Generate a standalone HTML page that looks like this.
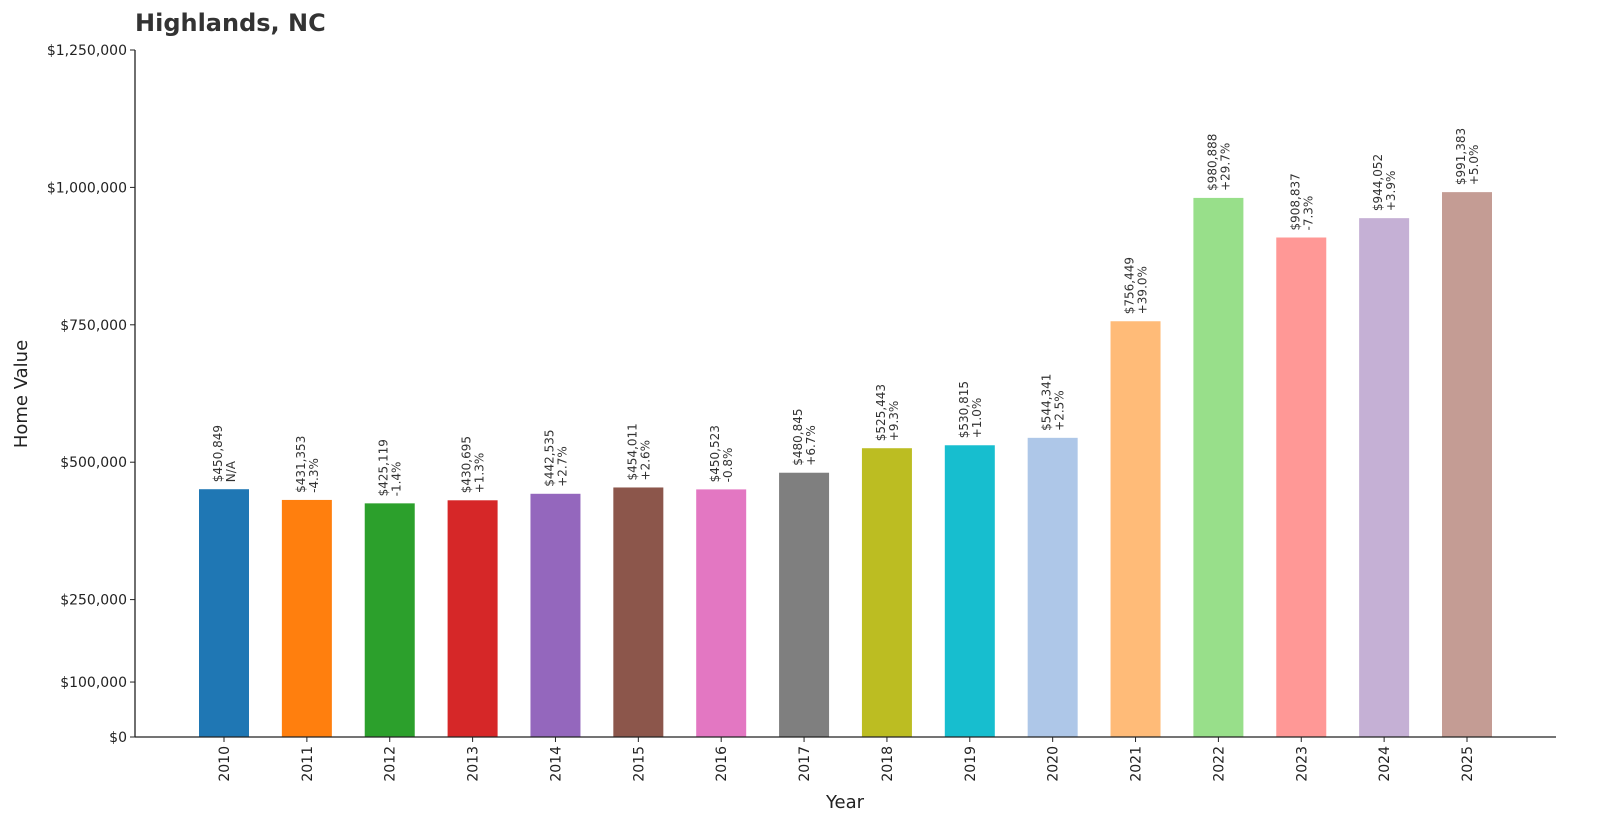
<!DOCTYPE html>
<html><head><meta charset="utf-8"><style>
body{margin:0;background:#fff;}
svg{display:block;font-family:"DejaVu Sans","Liberation Sans",sans-serif;}
</style></head><body>
<svg id="chart" width="1600" height="840">
<text x="135" y="31" font-size="24" font-weight="bold" fill="#333">Highlands, NC</text>
<text transform="translate(27,394) rotate(-90)" text-anchor="middle" font-size="18" fill="#222">Home Value</text>
<text x="845" y="808" text-anchor="middle" font-size="18" fill="#222">Year</text>
<g id="bars"></g><g id="axes"></g>
</svg>
<script>
const years=["2010","2011","2012","2013","2014","2015","2016","2017","2018","2019","2020","2021","2022","2023","2024","2025"];
const values=[450849,431353,425119,430695,442535,454011,450523,480845,525443,530815,544341,756449,980888,908837,944052,991383];
const changes=["N/A","-4.3%","-1.4%","+1.3%","+2.7%","+2.6%","-0.8%","+6.7%","+9.3%","+1.0%","+2.5%","+39.0%","+29.7%","-7.3%","+3.9%","+5.0%"];
const yTicks=[0,100000,250000,500000,750000,1000000,1250000];
const colors=["#1f77b4","#ff7f0e","#2ca02c","#d62728","#9467bd","#8c564b","#e377c2","#7f7f7f","#bcbd22","#17becf","#aec7e8","#ffbb78","#98df8a","#ff9896","#c5b0d5","#c49c94"];
const NS="http://www.w3.org/2000/svg";
const y0=737,y1=50,yMax=1250000;
const yScale=v=>y0-(v/yMax)*(y0-y1);
const xScale=i=>224+i*(1467-224)/(years.length-1);
const bw=50;
const bars=document.getElementById('bars'),axes=document.getElementById('axes');
function mk(tag,attrs,parent){const e=document.createElementNS(NS,tag);for(const k in attrs)e.setAttribute(k,attrs[k]);parent.appendChild(e);return e;}
values.forEach((v,i)=>{
 const cx=xScale(i),top=yScale(v);
 const r=mk('rect',{x:cx-bw/2,y:top,width:bw,height:y0-top,fill:colors[i%colors.length]},bars);
 
 
 const t=mk('text',{transform:`translate(${cx},${top-7}) rotate(-90)`,'font-size':'12',fill:'#333'},bars);
 
 
 const s1=mk('tspan',{x:0,y:-2},t);s1.textContent='$'+v.toLocaleString('en-US');
 const s2=mk('tspan',{x:0,y:11},t);s2.textContent=changes[i];
 mk('line',{x1:cx,x2:cx,y1:y0,y2:y0+5,stroke:'#222'},axes);
 const tl=mk('text',{transform:`translate(${cx+5},${y0+9}) rotate(-90)`,'text-anchor':'end','font-size':'14',fill:'#222'},axes);
 
 
 tl.textContent=years[i];
});
yTicks.forEach(v=>{
 const y=yScale(v);
 mk('line',{x1:130,x2:135,y1:y,y2:y,stroke:'#222'},axes);
 const t=mk('text',{x:127,y:y+5,'text-anchor':'end','font-size':'14',fill:'#222'},axes);
 
 
 t.textContent='$'+v.toLocaleString('en-US');
});
const ya=mk('line',{x1:135,x2:135,y1:y1,y2:y0,stroke:'#222','stroke-width':1.3},axes);


const xa=mk('line',{x1:135,x2:1556,y1:y0,y2:y0,stroke:'#222','stroke-width':1.3},axes);


</script>
</body></html>
